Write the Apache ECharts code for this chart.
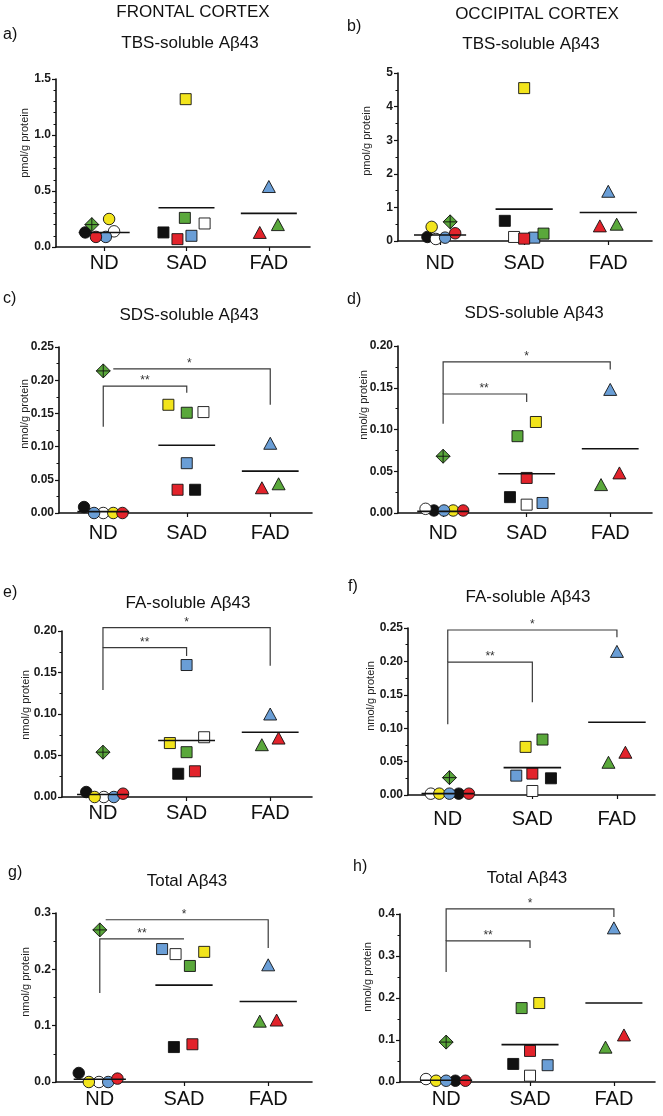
<!DOCTYPE html>
<html><head><meta charset="utf-8">
<script src="https://cdn.jsdelivr.net/npm/echarts@6/dist/echarts.min.js"></script>
<style>html,body{margin:0;padding:0;background:#fff}#c{width:663px;height:1116px}</style>
</head><body><div id="c"></div>
<script>
// ---------------- DATA ----------------
const categories = ['ND', 'SAD', 'FAD'];
const columnHeaders = ['FRONTAL CORTEX', 'OCCIPITAL CORTEX'];
const panelLetters = ['a)', 'b)', 'c)', 'd)', 'e)', 'f)', 'g)', 'h)'];
const panelTitles = ['TBS-soluble Aβ43', 'TBS-soluble Aβ43', 'SDS-soluble Aβ43', 'SDS-soluble Aβ43',
  'FA-soluble Aβ43', 'FA-soluble Aβ43', 'Total Aβ43', 'Total Aβ43'];
const yAxisNames = ['pmol/g protein', 'pmol/g protein', 'nmol/g protein', 'nmol/g protein',
  'nmol/g protein', 'nmol/g protein', 'nmol/g protein', 'nmol/g protein'];

// subjects (colour coded individuals)
const ndSubjects = ['black', 'white', 'yellow', 'blue', 'red', 'green'];
const sadSubjects = ['black', 'white', 'yellow', 'blue', 'red', 'green'];
const fadSubjects = ['blue', 'red', 'green'];

// a) frontal TBS (pmol/g)
const aND = [0.13, 0.14, 0.25, 0.09, 0.09, 0.20];
const aSAD = [0.13, 0.21, 1.32, 0.10, 0.07, 0.26];
const aFAD = [0.54, 0.13, 0.20];
const aMeans = [0.13, 0.35, 0.30];
const aTicks = ['0.0', '0.5', '1.0', '1.5'];
// b) occipital TBS (pmol/g)
const bND = [0.12, 0.06, 0.42, 0.10, 0.23, 0.57];
const bSAD = [0.60, 0.12, 4.55, 0.10, 0.07, 0.22];
const bFAD = [1.48, 0.45, 0.50];
const bMeans = [0.18, 0.95, 0.85];
const bTicks = ['0', '1', '2', '3', '4', '5'];
// c) frontal SDS (nmol/g)
const cND = [0.009, 0.0, 0.0, 0.0, 0.0, 0.214];
const cSAD = [0.035, 0.152, 0.163, 0.075, 0.035, 0.151];
const cFAD = [0.105, 0.038, 0.044];
const cMeans = [0.002, 0.102, 0.063];
const cTicks = ['0.00', '0.05', '0.10', '0.15', '0.20', '0.25'];
// d) occipital SDS
const dND = [0.003, 0.005, 0.003, 0.003, 0.003, 0.068];
const dSAD = [0.019, 0.010, 0.109, 0.012, 0.042, 0.092];
const dFAD = [0.148, 0.048, 0.034];
const dMeans = [0.002, 0.047, 0.077];
const dTicks = ['0.00', '0.05', '0.10', '0.15', '0.20'];
// e) frontal FA
const eND = [0.006, 0.0, 0.0, 0.0, 0.004, 0.054];
const eSAD = [0.028, 0.072, 0.065, 0.159, 0.031, 0.054];
const eFAD = [0.100, 0.071, 0.063];
const eMeans = [0.003, 0.068, 0.078];
const eTicks = ['0.00', '0.05', '0.10', '0.15', '0.20'];
// f) occipital FA
const fND = [0.002, 0.002, 0.002, 0.002, 0.002, 0.026];
const fSAD = [0.025, 0.006, 0.072, 0.029, 0.032, 0.083];
const fFAD = [0.215, 0.064, 0.049];
const fMeans = [0.002, 0.041, 0.109];
const fTicks = ['0.00', '0.05', '0.10', '0.15', '0.20', '0.25'];
// g) frontal total
const gND = [0.016, 0.0, 0.0, 0.0, 0.006, 0.270];
const gSAD = [0.062, 0.227, 0.231, 0.236, 0.067, 0.206];
const gFAD = [0.208, 0.110, 0.108];
const gMeans = [0.005, 0.172, 0.143];
const gTicks = ['0.0', '0.1', '0.2', '0.3'];
// h) occipital total
const hND = [0.003, 0.007, 0.003, 0.003, 0.003, 0.095];
const hSAD = [0.043, 0.015, 0.188, 0.040, 0.074, 0.176];
const hFAD = [0.367, 0.112, 0.083];
const hMeans = [0.004, 0.089, 0.188];
const hTicks = ['0.0', '0.1', '0.2', '0.3', '0.4'];

// significance brackets: [xStart, xEnd, level, leftLegBottom, rightLegBottom, labelX]
const bracketLabels = ['**', '*'];
const cBrackets = [[0, 1, 0.191, 0.130, 0.181, 0.5], [0.12, 2, 0.217, 0.217, 0.163, 1.03]];
const dBrackets = [[0, 1, 0.1425, 0.107, 0.133, 0.49], [0, 2, 0.181, 0.1425, 0.172, 1.0]];
const eBrackets = [[0, 1, 0.180, 0.129, 0.170, 0.5], [0, 2, 0.204, 0.180, 0.158, 1.0]];
const fBrackets = [[0, 1, 0.199, 0.106, 0.139, 0.5], [0, 2, 0.247, 0.199, 0.236, 1.0]];
const gBrackets = [[0, 1, 0.254, 0.158, 0.254, 0.5], [0.07, 2, 0.288, 0.288, 0.238, 1.0]];
const hBrackets = [[0, 1, 0.336, 0.262, 0.319, 0.5], [0, 2, 0.412, 0.336, 0.393, 1.0]];

// ---------------- LAYOUT / STYLE ----------------
const FONT = '"Liberation Sans", Arial, Helvetica, sans-serif';
const colorOf = { black: '#111111', white: '#ffffff', yellow: '#f2e41c', blue: '#6a9ed6', red: '#e2232b', green: '#5aa83b' };
const DIAMOND_PLUS = 'path://M10,0 L20,10 L10,20 L0,10 Z M10,0 L10,20 M0,10 L20,10';

const jitter = [
  { nd: [-0.23, 0.12, 0.06, 0.02, -0.10, -0.15], sad: [-0.28, 0.22, -0.01, 0.06, -0.11, -0.02], fad: [0, -0.11, 0.11] },
  { nd: [-0.15, -0.05, -0.10, 0.06, 0.18, 0.12], sad: [-0.23, -0.12, 0, 0.12, 0, 0.23], fad: [0, -0.10, 0.10] },
  { nd: [-0.23, 0, 0.12, -0.11, 0.23, 0], sad: [0.10, 0.20, -0.22, 0, -0.11, 0], fad: [0, -0.10, 0.10] },
  { nd: [-0.11, -0.21, 0.12, 0.01, 0.24, 0], sad: [-0.20, 0, 0.11, 0.19, 0, -0.11], fad: [0, 0.11, -0.11] },
  { nd: [-0.20, 0.01, -0.10, 0.13, 0.24, 0], sad: [-0.10, 0.21, -0.20, 0, 0.10, 0], fad: [0, 0.10, -0.10] },
  { nd: [0.13, -0.20, -0.10, 0.02, 0.25, 0.02], sad: [0.22, 0, -0.08, -0.19, 0, 0.12], fad: [0, 0.10, -0.10] },
  { nd: [-0.25, -0.01, -0.13, 0.10, 0.21, 0], sad: [-0.12, -0.10, 0.24, -0.26, 0.10, 0.07], fad: [0, 0.10, -0.10] },
  { nd: [0.11, -0.24, -0.12, 0, 0.23, 0], sad: [-0.20, 0, 0.11, 0.21, 0, -0.10], fad: [0, 0.12, -0.10] }
];

const layout = [
  { left: 56, top: 79, width: 254, height: 168, xMin: -0.585, xMax: 2.5, lm: 6, minor: 5, name: [25, 143], title: [190, 43], letter: [3, 35] },
  { left: 398, top: 73, width: 254, height: 168, xMin: -0.5, xMax: 2.52, lm: 12, minor: 2, name: [367, 141], title: [531, 44], letter: [347, 27] },
  { left: 59, top: 347, width: 253, height: 166, xMin: -0.53, xMax: 2.5, lm: 10, minor: 2, name: [25, 414], title: [189, 315], letter: [3, 299] },
  { left: 398, top: 346, width: 254, height: 167, xMin: -0.54, xMax: 2.5, lm: 10, minor: 2, name: [364, 405], title: [534, 313], letter: [347, 300] },
  { left: 62, top: 631, width: 250, height: 166, xMin: -0.49, xMax: 2.5, lm: 6, minor: 2, name: [26, 705], title: [188, 603], letter: [3, 593] },
  { left: 408, top: 628, width: 247, height: 167, xMin: -0.47, xMax: 2.45, lm: 14, minor: 2, name: [371, 696], title: [528, 597], letter: [348, 587] },
  { left: 56, top: 913, width: 256, height: 169, xMin: -0.52, xMax: 2.52, lm: 7, minor: 2, name: [26, 982], title: [187, 881], letter: [8, 873] },
  { left: 400, top: 914, width: 255, height: 168, xMin: -0.55, xMax: 2.49, lm: 7, minor: 2, name: [368, 977], title: [527, 878], letter: [353, 867] }
];

const panels = [
  { nd: aND, sad: aSAD, fad: aFAD, means: aMeans, ticks: aTicks, brackets: [] },
  { nd: bND, sad: bSAD, fad: bFAD, means: bMeans, ticks: bTicks, brackets: [] },
  { nd: cND, sad: cSAD, fad: cFAD, means: cMeans, ticks: cTicks, brackets: cBrackets },
  { nd: dND, sad: dSAD, fad: dFAD, means: dMeans, ticks: dTicks, brackets: dBrackets },
  { nd: eND, sad: eSAD, fad: eFAD, means: eMeans, ticks: eTicks, brackets: eBrackets },
  { nd: fND, sad: fSAD, fad: fFAD, means: fMeans, ticks: fTicks, brackets: fBrackets },
  { nd: gND, sad: gSAD, fad: gFAD, means: gMeans, ticks: gTicks, brackets: gBrackets },
  { nd: hND, sad: hSAD, fad: hFAD, means: hMeans, ticks: hTicks, brackets: hBrackets }
];

// ---------------- BUILD ----------------
const grid = [], xAxis = [], yAxis = [], series = [], graphic = [];

graphic.push({ type: 'text', x: 193, y: 12, style: { text: columnHeaders[0], fontSize: 17, fontFamily: FONT, fill: '#111', align: 'center', verticalAlign: 'middle', textAlign: 'center', textVerticalAlign: 'middle' } });
graphic.push({ type: 'text', x: 537, y: 14, style: { text: columnHeaders[1], fontSize: 17, fontFamily: FONT, fill: '#111', align: 'center', verticalAlign: 'middle', textAlign: 'center', textVerticalAlign: 'middle' } });

panels.forEach((p, i) => {
  const L = layout[i];
  const tickVals = p.ticks.map(Number);
  const interval = tickVals[1] - tickVals[0];
  grid.push({ left: L.left, top: L.top, width: L.width, height: L.height, containLabel: false });
  xAxis.push({
    type: 'value', gridIndex: i, min: L.xMin, max: L.xMax,
    splitLine: { show: false },
    axisLine: { show: true, onZero: false, lineStyle: { color: '#111', width: 1.6 } },
    axisTick: { show: true, customValues: [0, 1, 2], length: 4, lineStyle: { color: '#111', width: 1.2 } },
    axisLabel: { customValues: [0, 1, 2], formatter: v => categories[Math.round(v)], fontSize: 20, fontFamily: FONT, color: '#111', margin: L.lm }
  });
  yAxis.push({
    type: 'value', gridIndex: i, min: 0, max: tickVals[tickVals.length - 1], interval: interval,
    splitLine: { show: false },
    axisLine: { show: true, onZero: false, lineStyle: { color: '#111', width: 1.6 } },
    axisTick: { show: true, length: 4, lineStyle: { color: '#111', width: 1.2 } },
    minorTick: { show: true, splitNumber: L.minor, length: 2.5, lineStyle: { color: '#111', width: 1 } },
    axisLabel: {
      formatter: v => { const k = Math.round(v / interval); return p.ticks[k] !== undefined ? p.ticks[k] : ''; },
      fontSize: 12, fontWeight: 'bold', fontFamily: FONT, color: '#1a1a1a', margin: 5
    }
  });

  const J = jitter[i];
  const common = { type: 'scatter', xAxisIndex: i, yAxisIndex: i, clip: false, z: 3,
    itemStyle: { borderColor: '#111', borderWidth: 0.9, opacity: 1 }, emphasis: { disabled: true } };
  series.push(Object.assign({}, common, {
    data: ndSubjects.map((s, k) => ({
      value: [0 + J.nd[k], p.nd[k]],
      symbol: s === 'green' ? DIAMOND_PLUS : 'circle',
      symbolSize: s === 'green' ? 14 : 11.5,
      itemStyle: { color: colorOf[s] }
    }))
  }));
  series.push(Object.assign({}, common, {
    data: sadSubjects.map((s, k) => ({
      value: [1 + J.sad[k], p.sad[k]], symbol: 'rect', symbolSize: 11, itemStyle: { color: colorOf[s] }
    }))
  }));
  series.push(Object.assign({}, common, {
    data: fadSubjects.map((s, k) => ({
      value: [2 + J.fad[k], p.fad[k]], symbol: 'triangle', symbolSize: [13, 12], itemStyle: { color: colorOf[s] }
    }))
  }));

  // mean lines
  series.push({
    type: 'custom', xAxisIndex: i, yAxisIndex: i, z: 4, clip: false,
    data: p.means.map((m, k) => [k, m]),
    renderItem: (params, api) => {
      const k = api.value(0), m = api.value(1);
      const hw = k === 0 ? 0.31 : 0.34;
      const p1 = api.coord([k - hw, m]), p2 = api.coord([k + hw, m]);
      return { type: 'line', shape: { x1: p1[0], y1: p1[1], x2: p2[0], y2: p2[1] }, style: { stroke: '#111', lineWidth: 1.6 } };
    }
  });

  // significance brackets
  if (p.brackets.length) {
    series.push({
      type: 'custom', xAxisIndex: i, yAxisIndex: i, z: 2, clip: false,
      data: p.brackets,
      renderItem: (params, api) => {
        const x0 = api.value(0), x1 = api.value(1), lv = api.value(2), lb = api.value(3), rb = api.value(4), tx = api.value(5);
        const pts = [api.coord([x0, lb]), api.coord([x0, lv]), api.coord([x1, lv]), api.coord([x1, rb])];
        const tp = api.coord([tx, lv]);
        return {
          type: 'group', children: [
            { type: 'polyline', shape: { points: pts }, style: { stroke: '#3a3a3a', lineWidth: 1.2, fill: null } },
            { type: 'text', x: tp[0], y: tp[1] + 1, style: { text: bracketLabels[params.dataIndex], fontSize: 12, fontFamily: FONT, fill: '#333',
                align: 'center', verticalAlign: 'bottom', textAlign: 'center', textVerticalAlign: 'bottom' } }
          ]
        };
      }
    });
  }

  // texts
  graphic.push({ type: 'text', x: L.letter[0], y: L.letter[1], style: { text: panelLetters[i], fontSize: 16, fontFamily: FONT, fill: '#111', align: 'left', verticalAlign: 'middle', textAlign: 'left', textVerticalAlign: 'middle' } });
  graphic.push({ type: 'text', x: L.title[0], y: L.title[1], style: { text: panelTitles[i], fontSize: 17, fontFamily: FONT, fill: '#111', align: 'center', verticalAlign: 'middle', textAlign: 'center', textVerticalAlign: 'middle' } });
  graphic.push({ type: 'text', x: L.name[0], y: L.name[1], rotation: Math.PI / 2, style: { text: yAxisNames[i], fontSize: 11, fontFamily: FONT, fill: '#222', align: 'center', verticalAlign: 'middle', textAlign: 'center', textVerticalAlign: 'middle' } });
});

const chart = echarts.init(document.getElementById('c'), null, { renderer: 'canvas' });
chart.setOption({ animation: false, backgroundColor: '#ffffff', grid, xAxis, yAxis, series, graphic });
</script>
</body></html>
